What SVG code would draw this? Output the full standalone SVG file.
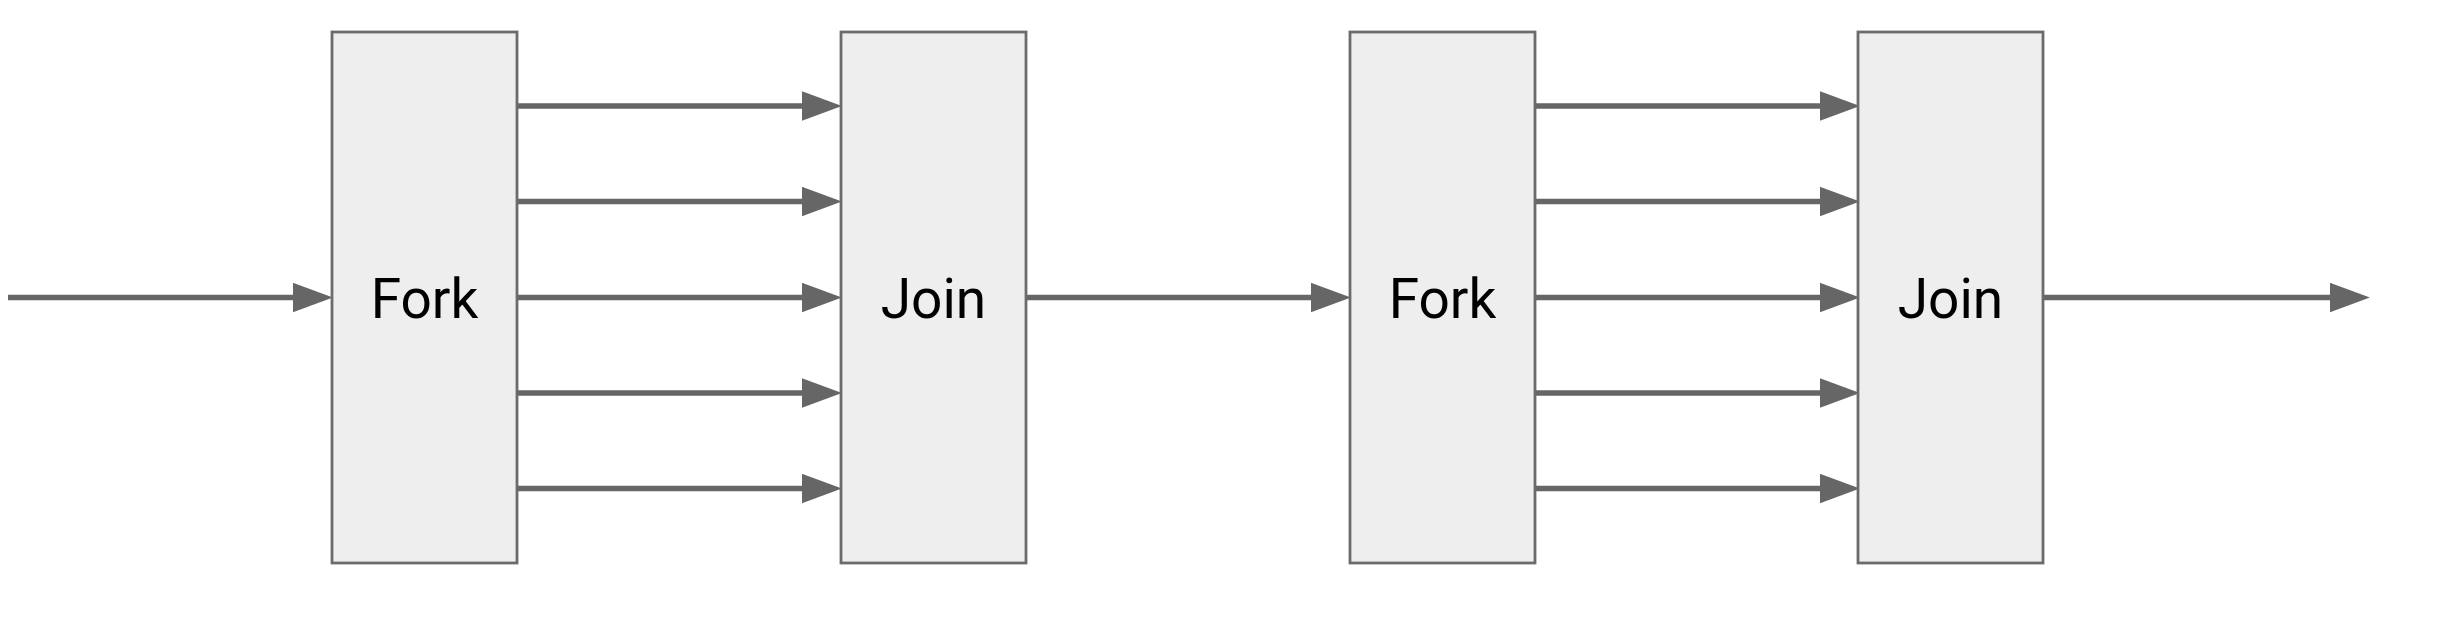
<svg xmlns="http://www.w3.org/2000/svg" width="2451" height="618" viewBox="0 0 2451 618">
<style>
.box{fill:#eeeeee;stroke:#6b6b6b;stroke-width:2.8}
.lbl{font-family:Roboto,"Liberation Sans",sans-serif;font-size:55px;fill:#000;text-anchor:middle}
.c{stroke:#666666;stroke-width:5.5;fill:none}
</style>
<defs>
<marker id="ah" markerUnits="userSpaceOnUse" markerWidth="40" markerHeight="30" viewBox="0 0 38 28" refX="2" refY="14" orient="auto">
<path d="M0,0 L38,14 L0,28 Z" fill="#666666"/>
</marker>
</defs>
<rect width="2451" height="618" fill="#ffffff"/>
<g id="connectors">
<line class="c" x1="8" y1="297.5" x2="295" y2="297.5" marker-end="url(#ah)"/>
<line class="c" x1="517" y1="106" x2="804" y2="106" marker-end="url(#ah)"/>
<line class="c" x1="517" y1="201.5" x2="804" y2="201.5" marker-end="url(#ah)"/>
<line class="c" x1="517" y1="297.5" x2="804" y2="297.5" marker-end="url(#ah)"/>
<line class="c" x1="517" y1="393" x2="804" y2="393" marker-end="url(#ah)"/>
<line class="c" x1="517" y1="488.5" x2="804" y2="488.5" marker-end="url(#ah)"/>
<line class="c" x1="1026" y1="297.5" x2="1313" y2="297.5" marker-end="url(#ah)"/>
<line class="c" x1="1535" y1="106" x2="1822" y2="106" marker-end="url(#ah)"/>
<line class="c" x1="1535" y1="201.5" x2="1822" y2="201.5" marker-end="url(#ah)"/>
<line class="c" x1="1535" y1="297.5" x2="1822" y2="297.5" marker-end="url(#ah)"/>
<line class="c" x1="1535" y1="393" x2="1822" y2="393" marker-end="url(#ah)"/>
<line class="c" x1="1535" y1="488.5" x2="1822" y2="488.5" marker-end="url(#ah)"/>
<line class="c" x1="2043" y1="297.5" x2="2332" y2="297.5" marker-end="url(#ah)"/>
</g>
<g id="fork1">
<rect class="box" x="332" y="32" width="185" height="531"/>
<text class="lbl" x="424.5" y="318">Fork</text>
</g>
<g id="join1">
<rect class="box" x="841" y="32" width="185" height="531"/>
<text class="lbl" x="933.5" y="318">Join</text>
</g>
<g id="fork2">
<rect class="box" x="1350" y="32" width="185" height="531"/>
<text class="lbl" x="1442.5" y="318">Fork</text>
</g>
<g id="join2">
<rect class="box" x="1858" y="32" width="185" height="531"/>
<text class="lbl" x="1950.5" y="318">Join</text>
</g>
</svg>
